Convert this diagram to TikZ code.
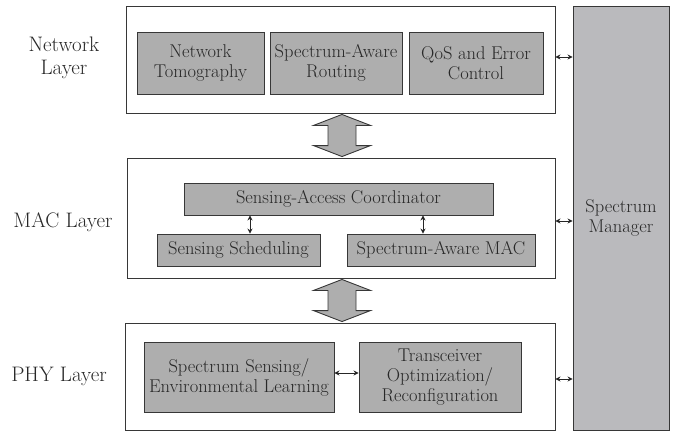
\documentclass[tikz,border=0pt]{standalone}
\usetikzlibrary{arrows.meta,calc}
\definecolor{boxgray}{RGB}{174,174,174}
\definecolor{mgrgray}{RGB}{186,186,189}
\definecolor{edge}{RGB}{55,55,55}
\definecolor{ink}{RGB}{40,40,40}
\tikzset{
  layerbox/.style={draw=edge, line width=0.9pt, fill=white, inner sep=0pt},
  unit/.style={draw=edge, line width=0.9pt, fill=boxgray, inner sep=0pt, align=center, text=ink,
    font=\fontsize{18.5}{20}\selectfont},
  layerlabel/.style={align=center, text=ink, font=\fontsize{21}{23}\selectfont},
  link/.style={draw=black!85, line width=0.9pt, {Stealth[length=5pt,width=5pt]}-{Stealth[length=5pt,width=5pt]}},
  blockarrow/.style={draw=edge, line width=0.9pt, fill=boxgray}
}
\begin{document}
\begin{tikzpicture}[x=1pt,y=-1pt]
\useasboundingbox (0,0) rectangle (674,432);

% layer frames
\node[layerbox, minimum width=429pt, minimum height=107pt] (net) at (340.5,59.5) {};
\node[layerbox, minimum width=428pt, minimum height=120pt] (mac) at (341,218) {};
\node[layerbox, minimum width=430pt, minimum height=107pt] (phy) at (340,376.5) {};

% spectrum manager
\node[unit, fill=mgrgray, minimum width=96pt, minimum height=424pt] (mgr) at (621,218) {Spectrum\\Manager};

% layer names
\node[layerlabel] (lnet) at (64,58) {Network\\Layer};
\node[layerlabel] (lmac) at (63,222) {MAC Layer};
\node[layerlabel] (lphy) at (59,376) {PHY Layer};

% network layer functions
\node[unit, minimum width=127pt, minimum height=62pt] (tomo) at (200.5,63) {Network\\Tomography};
\node[unit, minimum width=132pt, minimum height=62pt] (route) at (336,63) {Spectrum-Aware\\Routing};
\node[unit, minimum width=134pt, minimum height=62pt] (qos) at (476,63) {QoS and Error\\Control};

% MAC layer functions
\node[unit, minimum width=309pt, minimum height=32pt] (sac) at (338.5,199) {Sensing-Access Coordinator};
\node[unit, minimum width=163pt, minimum height=32pt] (sched) at (238.5,250) {Sensing Scheduling};
\node[unit, minimum width=188pt, minimum height=32pt] (smac) at (441,250) {Spectrum-Aware MAC};

% PHY layer functions
\node[unit, minimum width=190pt, minimum height=70pt] (sense) at (239,377) {Spectrum Sensing/\\Environmental Learning};
\node[unit, minimum width=162pt, minimum height=70pt] (trx) at (440,377) {Transceiver\\Optimization/\\Reconfiguration};

% links inside the layers
\draw[link] (sac.south -| 250,0) -- (sched.north -| 250,0);
\draw[link] (sac.south -| 423,0) -- (smac.north -| 423,0);
\draw[link] (sense.east |- 0,373) -- (trx.west |- 0,373);

% links to the spectrum manager
\draw[link] (net.east |- 0,57) -- (mgr.west |- 0,57);
\draw[link] (mac.east |- 0,221) -- (mgr.west |- 0,221);
\draw[link] (phy.east |- 0,379) -- (mgr.west |- 0,379);

% wide arrows between layers
\path (net.south -| 342,0) coordinate (t1) (mac.north -| 342,0) coordinate (b1);
\path (mac.south -| 342,0) coordinate (t2) (phy.north -| 342,0) coordinate (b2);
\foreach \t/\b in {t1/b1,t2/b2}{
  \draw[blockarrow] let \p1=(\t), \p2=(\b) in
    (\x1,\y1-1pt) -- (\x1+28.5pt,\y1-12pt) -- (\x1+14pt,\y1-12pt) -- (\x1+14pt,\y2+12pt)
    -- (\x1+28.5pt,\y2+12pt) -- (\x1,\y2+1pt) -- (\x1-28.5pt,\y2+12pt) -- (\x1-14pt,\y2+12pt)
    -- (\x1-14pt,\y1-12pt) -- (\x1-28.5pt,\y1-12pt) -- cycle;
}
\end{tikzpicture}
\end{document}
